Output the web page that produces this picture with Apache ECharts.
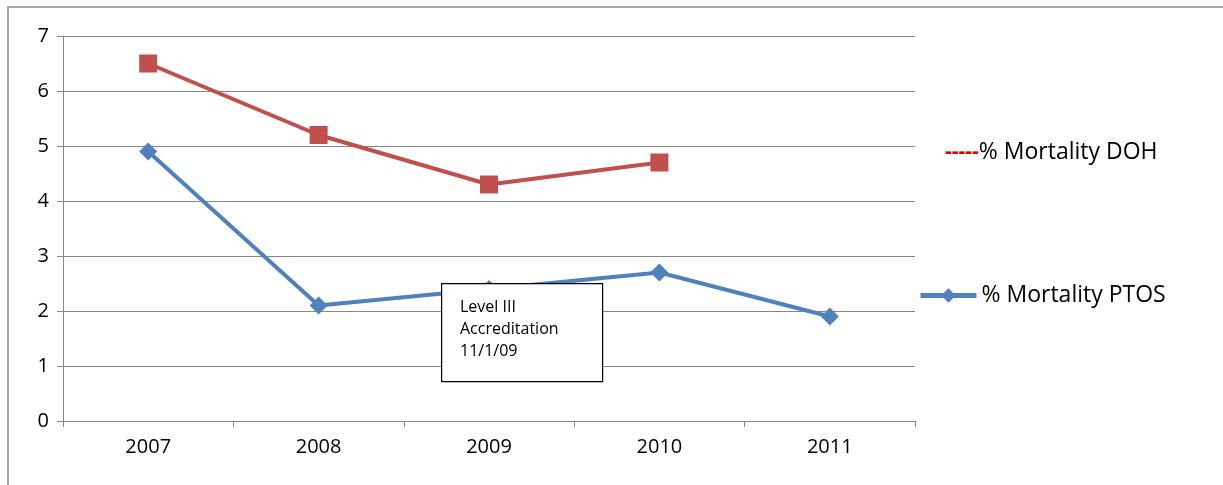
<!DOCTYPE html>
<html>
<head>
<meta charset="utf-8">
<script src="https://cdn.jsdelivr.net/npm/echarts@6/dist/echarts.min.js"></script>
<style>html,body{margin:0;padding:0;background:#fff}#main{width:1223px;height:485px}</style>
</head>
<body>
<div id="main"></div>
<script>
var years = ["2007", "2008", "2009", "2010", "2011"];
var doh = [6.5, 5.2, 4.3, 4.7, null];
var ptos = [4.9, 2.1, 2.4, 2.7, 1.9];
var yTicks = [0, 7, 1];

var myChart = echarts.init(document.getElementById("main"));
var font = "Open Sans";
myChart.setOption({
  animation: false,
  textStyle: { fontFamily: font },
  grid: { left: 63, right: 308, top: 36, bottom: 64 },
  legend: [
    {
      data: ["% Mortality DOH"],
      left: 935, top: 136,
      itemWidth: 0, itemGap: 0, icon: "none",
      formatter: function (n) { return "{r|-----}" + n; },
      textStyle: {
        fontSize: 23, color: "#000", fontFamily: font,
        rich: { r: { color: "#e00000", fontSize: 21, fontWeight: "bold", fontFamily: font } }
      }
    },
    {
      data: ["% Mortality PTOS"],
      left: 913, top: 279,
      itemWidth: 56, itemHeight: 18, itemGap: 4,
      lineStyle: { width: 5 },
      textStyle: { fontSize: 23, color: "#000", fontFamily: font }
    }
  ],
  xAxis: {
    type: "category",
    data: years,
    boundaryGap: true,
    axisLine: { lineStyle: { color: "#868686" } },
    axisTick: { show: true, length: 6, lineStyle: { color: "#868686" } },
    axisLabel: { fontSize: 20, color: "#000", margin: 16, fontFamily: font }
  },
  yAxis: {
    type: "value",
    min: yTicks[0], max: yTicks[1], interval: yTicks[2],
    axisLine: { show: true, lineStyle: { color: "#868686" } },
    axisTick: { show: true, length: 6, lineStyle: { color: "#868686" } },
    axisLabel: { fontSize: 20, color: "#000", margin: 14, fontFamily: font },
    splitLine: { lineStyle: { color: "#868686", width: 1.2 } }
  },
  series: [
    {
      name: "% Mortality DOH", type: "line", data: doh,
      symbol: "rect", symbolSize: 18,
      lineStyle: { color: "#c0504d", width: 4 },
      itemStyle: { color: "#c0504d" }
    },
    {
      name: "% Mortality PTOS", type: "line", data: ptos,
      symbol: "diamond", symbolSize: 18,
      lineStyle: { color: "#4f81bd", width: 4 },
      itemStyle: { color: "#4f81bd" }
    }
  ],
  graphic: [
    { type: "polyline", shape: { points: [[8, 485], [8, 7], [1223, 7]] }, style: { stroke: "#888", lineWidth: 1.5, fill: null } },
    { type: "rect", left: 441, top: 283, shape: { width: 161, height: 98 }, style: { fill: "#fff", stroke: "#000", lineWidth: 1.2 }, z: 100 },
    { type: "text", left: 460, top: 296, style: { text: "Level III\nAccreditation\n11/1/09", font: "16px " + font, lineHeight: 22, fill: "#000" }, z: 101 }
  ]
});
</script>
</body>
</html>
